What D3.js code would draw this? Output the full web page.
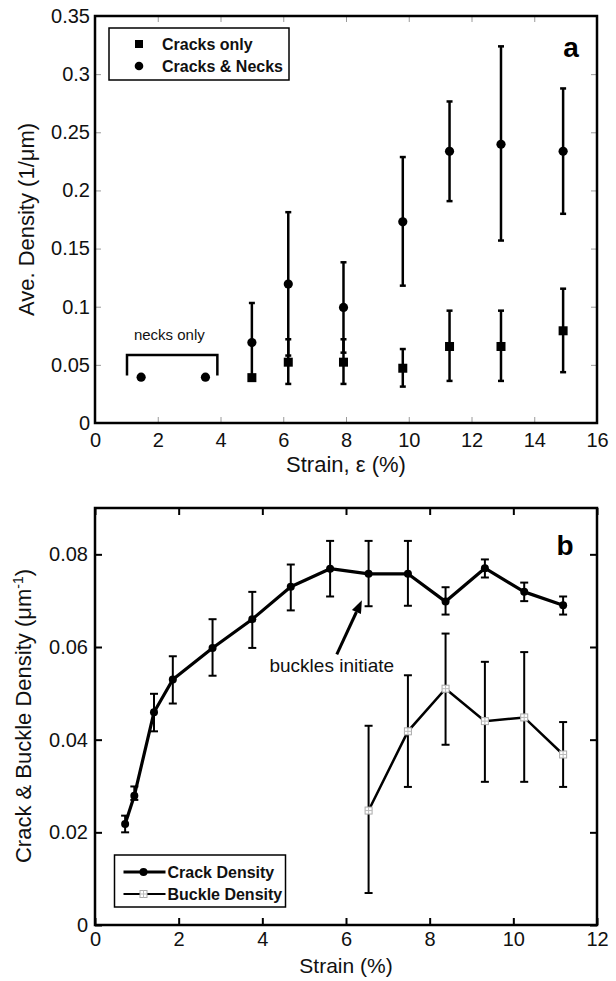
<!DOCTYPE html>
<html>
<head>
<meta charset="utf-8">
<script src="https://cdn.jsdelivr.net/npm/d3@7"></script>
<style>
  body { margin: 0; background: #fff; }
  svg { display: block; font-family: "Liberation Sans", Arial, sans-serif; }
</style>
</head>
<body>
<div id="chart"></div>
<script>
// ---- panel a data ----
const strainA = [5.0, 6.16, 7.92, 9.81, 11.3, 12.94, 14.92];
const cracksOnly = [0.039, 0.0523, 0.0523, 0.0471, 0.0658, 0.0658, 0.0793];
const cracksOnlyHi = [null, 0.072, 0.072, 0.0636, 0.0966, 0.0966, 0.1155];
const cracksOnlyLo = [null, 0.0336, 0.0336, 0.0313, 0.0362, 0.0362, 0.0437];
const cracksNecks = [0.0692, 0.1195, 0.0994, 0.173, 0.2336, 0.2397, 0.2336];
const cracksNecksHi = [0.1032, 0.1813, 0.1382, 0.2287, 0.2765, 0.3239, 0.2877];
const cracksNecksLo = [0.039, 0.058, 0.0605, 0.1181, 0.1908, 0.1569, 0.1799];
const necksStrain = [1.47, 3.52];
const necksOnly = [0.0394, 0.0394];
const necksBracket = { x0: 1.02, x1: 3.9, top: 0.0584, foot: 0.0408, labelX: 2.37, labelY: 0.0716 };
const xTicksA = [0, 2, 4, 6, 8, 10, 12, 14, 16];
const yTicksA = [0, 0.05, 0.1, 0.15, 0.2, 0.25, 0.3, 0.35];

// ---- panel b data ----
const strainCrack = [0.72, 0.94, 1.41, 1.86, 2.81, 3.76, 4.68, 5.62, 6.54, 7.48, 8.38, 9.32, 10.26, 11.19];
const crackDensity = [0.0218, 0.0279, 0.0459, 0.053, 0.0598, 0.066, 0.073, 0.0769, 0.0758, 0.0758, 0.0698, 0.077, 0.0719, 0.069];
const crackHi = [0.0236, 0.0299, 0.0499, 0.058, 0.066, 0.0719, 0.0778, 0.0829, 0.0829, 0.0829, 0.0729, 0.0789, 0.0739, 0.0709];
const crackLo = [0.020, 0.027, 0.0418, 0.0478, 0.0538, 0.0598, 0.0679, 0.0709, 0.0688, 0.0689, 0.067, 0.075, 0.0699, 0.067];
const strainBuckle = [6.54, 7.48, 8.38, 9.32, 10.26, 11.19];
const buckleDensity = [0.0247, 0.0418, 0.051, 0.044, 0.0448, 0.0368];
const buckleHi = [0.043, 0.0539, 0.0629, 0.0568, 0.0589, 0.0438];
const buckleLo = [0.0069, 0.0298, 0.0389, 0.0309, 0.0309, 0.0298];
const arrowNote = { text: "buckles initiate", tx: 5.66, ty: 0.0545, x0: 5.78, y0: 0.0584, x1: 6.38, y1: 0.0701 };
const xTicksB = [0, 2, 4, 6, 8, 10, 12];
const yTicksB = [0, 0.02, 0.04, 0.06, 0.08];

const W = 616, H = 981;
const A = { left: 95, right: 597, top: 16, bottom: 423 };
const B = { left: 95, right: 597, top: 508, bottom: 925 };

const svg = d3.select("#chart").append("svg")
    .attr("width", W).attr("height", H);
svg.append("rect").attr("width", W).attr("height", H).attr("fill", "#fff");

const xA = d3.scaleLinear().domain([0, 16]).range([A.left, A.right]);
const yA = d3.scaleLinear().domain([0, 0.35]).range([A.bottom, A.top]);
const xB = d3.scaleLinear().domain([0, 12]).range([B.left, B.right]);
const yB = d3.scaleLinear().domain([0, 0.09]).range([B.bottom, B.top]);

// inward ticks on all four sides, labels on left/bottom only
function drawAxes(box, x, y, xt, yt, tickLen, tickColor, tickW, padX, padY) {
    const fmt = d3.format("~g");
    const sides = [
        { ax: d3.axisBottom(x).tickValues(xt).tickFormat(fmt).tickPadding(padX), t: `translate(0,${box.bottom})` },
        { ax: d3.axisTop(x).tickValues(xt).tickFormat(""), t: `translate(0,${box.top})` },
        { ax: d3.axisLeft(y).tickValues(yt).tickFormat(fmt).tickPadding(padY), t: `translate(${box.left},0)` },
        { ax: d3.axisRight(y).tickValues(yt).tickFormat(""), t: `translate(${box.right},0)` }
    ];
    sides.forEach(s => {
        const g = svg.append("g")
            .attr("transform", s.t)
            .call(s.ax.tickSize(-tickLen))
            .attr("font-family", null)
            .attr("font-size", 20);
        g.select(".domain").remove();
        g.selectAll(".tick line").attr("stroke", tickColor).attr("stroke-width", tickW);
        g.selectAll(".tick text").attr("fill", "#111");
    });
    svg.append("rect")
        .attr("x", box.left).attr("y", box.top)
        .attr("width", box.right - box.left).attr("height", box.bottom - box.top)
        .attr("fill", "none").attr("stroke", "#000").attr("stroke-width", 2.5);
}

function errorBars(xs, ys, lo, hi, x, y, capW, sw) {
    const g = svg.append("g").attr("stroke", "#000").attr("stroke-width", sw);
    xs.forEach((v, i) => {
        if (hi[i] == null) return;
        const px = x(v);
        g.append("line").attr("x1", px).attr("x2", px).attr("y1", y(lo[i])).attr("y2", y(hi[i]));
        [lo[i], hi[i]].forEach(e => {
            g.append("line").attr("x1", px - capW / 2).attr("x2", px + capW / 2)
                .attr("y1", y(e)).attr("y2", y(e));
        });
    });
}

// ================= panel a =================
drawAxes(A, xA, yA, xTicksA, yTicksA, 6, "#9a9a9a", 1, 10, 5);

errorBars(strainA, cracksNecks, cracksNecksLo, cracksNecksHi, xA, yA, 6, 2.5);
errorBars(strainA, cracksOnly, cracksOnlyLo, cracksOnlyHi, xA, yA, 6, 2.5);

svg.append("g").selectAll("circle")
    .data(strainA.map((s, i) => [s, cracksNecks[i]]))
    .join("circle")
    .attr("cx", d => xA(d[0])).attr("cy", d => yA(d[1]))
    .attr("r", 4.6).attr("fill", "#000");

svg.append("g").selectAll("rect")
    .data(strainA.map((s, i) => [s, cracksOnly[i]]))
    .join("rect")
    .attr("x", d => xA(d[0]) - 4.5).attr("y", d => yA(d[1]) - 4.5)
    .attr("width", 9).attr("height", 9).attr("fill", "#000");

svg.append("g").selectAll("circle")
    .data(necksStrain.map((s, i) => [s, necksOnly[i]]))
    .join("circle")
    .attr("cx", d => xA(d[0])).attr("cy", d => yA(d[1]))
    .attr("r", 4.6).attr("fill", "#000");

// "necks only" bracket
svg.append("path")
    .attr("d", d3.line()([
        [xA(necksBracket.x0), yA(necksBracket.foot)],
        [xA(necksBracket.x0), yA(necksBracket.top)],
        [xA(necksBracket.x1), yA(necksBracket.top)],
        [xA(necksBracket.x1), yA(necksBracket.foot)]
    ]))
    .attr("fill", "none").attr("stroke", "#000").attr("stroke-width", 2.5);
svg.append("text")
    .attr("x", xA(necksBracket.labelX)).attr("y", yA(necksBracket.labelY))
    .attr("text-anchor", "middle").attr("font-size", 15).attr("fill", "#111")
    .text("necks only");

// legend a
const legA = svg.append("g").attr("transform", "translate(109,28)");
legA.append("rect").attr("width", 180).attr("height", 52)
    .attr("fill", "#fff").attr("stroke", "#000").attr("stroke-width", 1.5);
legA.append("rect").attr("x", 26).attr("y", 12).attr("width", 8).attr("height", 8).attr("fill", "#000");
legA.append("circle").attr("cx", 30).attr("cy", 38).attr("r", 4.3).attr("fill", "#000");
["Cracks only", "Cracks & Necks"].forEach((t, i) => {
    legA.append("text").attr("x", 53).attr("y", 22 + i * 22)
        .attr("font-size", 16).attr("font-weight", "bold").attr("fill", "#111").text(t);
});

svg.append("text").attr("x", 571).attr("y", 57).attr("text-anchor", "middle")
    .attr("font-size", 28).attr("font-weight", "bold").text("a");

svg.append("text")
    .attr("transform", "translate(34,219.5) rotate(-90)")
    .attr("text-anchor", "middle").attr("font-size", 22).attr("fill", "#111")
    .text("Ave. Density (1/μm)");
svg.append("text")
    .attr("x", (A.left + A.right) / 2).attr("y", 472)
    .attr("text-anchor", "middle").attr("font-size", 22).attr("fill", "#111")
    .text("Strain, ε (%)");

// ================= panel b =================
drawAxes(B, xB, yB, xTicksB, yTicksB, 7, "#000", 2, 7, 7);

errorBars(strainCrack, crackDensity, crackLo, crackHi, xB, yB, 8, 2);
errorBars(strainBuckle, buckleDensity, buckleLo, buckleHi, xB, yB, 8, 2);

const lineB = d3.line().x(d => xB(d[0])).y(d => yB(d[1]));

svg.append("path")
    .attr("d", lineB(strainBuckle.map((s, i) => [s, buckleDensity[i]])))
    .attr("fill", "none").attr("stroke", "#000").attr("stroke-width", 2.5);
svg.append("path")
    .attr("d", lineB(strainCrack.map((s, i) => [s, crackDensity[i]])))
    .attr("fill", "none").attr("stroke", "#000").attr("stroke-width", 3.2)
    .attr("stroke-linejoin", "round");

svg.append("g").selectAll("circle")
    .data(strainCrack.map((s, i) => [s, crackDensity[i]]))
    .join("circle")
    .attr("cx", d => xB(d[0])).attr("cy", d => yB(d[1]))
    .attr("r", 4).attr("fill", "#000");

// open square with a cross, light grey
function buckleMark(g, cx, cy) {
    const s = 7;
    g.append("rect").attr("x", cx - s / 2).attr("y", cy - s / 2).attr("width", s).attr("height", s)
        .attr("fill", "#fff").attr("stroke", "#aaa").attr("stroke-width", 1);
    g.append("line").attr("x1", cx - s / 2).attr("x2", cx + s / 2).attr("y1", cy).attr("y2", cy)
        .attr("stroke", "#bbb").attr("stroke-width", 1);
    g.append("line").attr("x1", cx).attr("x2", cx).attr("y1", cy - s / 2).attr("y2", cy + s / 2)
        .attr("stroke", "#bbb").attr("stroke-width", 1);
}
const bm = svg.append("g");
strainBuckle.forEach((s, i) => buckleMark(bm, xB(s), yB(buckleDensity[i])));

// annotation arrow
const ax0 = xB(arrowNote.x0), ay0 = yB(arrowNote.y0);
const ax1 = xB(arrowNote.x1), ay1 = yB(arrowNote.y1);
const ang = Math.atan2(ay1 - ay0, ax1 - ax0);
const headL = 13, headW = 5;
const bx = ax1 - headL * Math.cos(ang), by = ay1 - headL * Math.sin(ang);
svg.append("line").attr("x1", ax0).attr("y1", ay0).attr("x2", bx).attr("y2", by)
    .attr("stroke", "#000").attr("stroke-width", 3);
svg.append("polygon")
    .attr("points", [
        [ax1, ay1],
        [bx + headW * Math.sin(ang), by - headW * Math.cos(ang)],
        [bx - headW * Math.sin(ang), by + headW * Math.cos(ang)]
    ].map(p => p.join(",")).join(" "))
    .attr("fill", "#000");
svg.append("text")
    .attr("x", xB(arrowNote.tx)).attr("y", yB(arrowNote.ty))
    .attr("text-anchor", "middle").attr("font-size", 19).attr("fill", "#111")
    .text(arrowNote.text);

// legend b
const legB = svg.append("g").attr("transform", "translate(114.5,855)");
legB.append("rect").attr("width", 171).attr("height", 52)
    .attr("fill", "#fff").attr("stroke", "#000").attr("stroke-width", 1.5);
legB.append("line").attr("x1", 9).attr("x2", 51).attr("y1", 17).attr("y2", 17)
    .attr("stroke", "#000").attr("stroke-width", 3);
legB.append("circle").attr("cx", 29).attr("cy", 17).attr("r", 4).attr("fill", "#000");
legB.append("line").attr("x1", 9).attr("x2", 51).attr("y1", 39).attr("y2", 39)
    .attr("stroke", "#000").attr("stroke-width", 2);
buckleMark(legB, 29, 39);
["Crack Density", "Buckle Density"].forEach((t, i) => {
    legB.append("text").attr("x", 53).attr("y", 23 + i * 22)
        .attr("font-size", 16).attr("font-weight", "bold").attr("fill", "#111").text(t);
});

svg.append("text").attr("x", 565).attr("y", 555).attr("text-anchor", "middle")
    .attr("font-size", 28).attr("font-weight", "bold").text("b");

const yTitleB = svg.append("text")
    .attr("transform", "translate(31,716) rotate(-90)")
    .attr("text-anchor", "middle").attr("font-size", 22).attr("fill", "#111");
yTitleB.append("tspan").text("Crack & Buckle Density (μm");
yTitleB.append("tspan").attr("font-size", 14).attr("dy", -8).text("-1");
yTitleB.append("tspan").attr("dy", 8).text(")");
svg.append("text")
    .attr("x", (B.left + B.right) / 2).attr("y", 973)
    .attr("text-anchor", "middle").attr("font-size", 21).attr("fill", "#111")
    .text("Strain (%)");
</script>
</body>
</html>
